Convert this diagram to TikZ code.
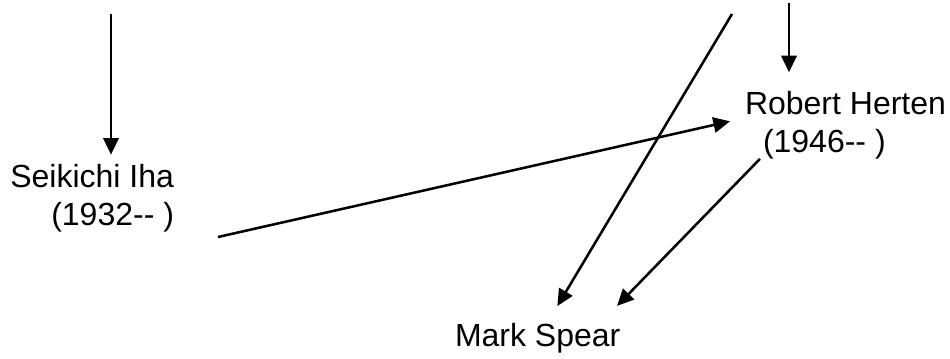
\documentclass[tikz,border=0pt]{standalone}
\usepackage{fontspec}
\setmainfont{Liberation Sans}
\usepackage{tikz}
\usetikzlibrary{arrows.meta,positioning,calc}

\begin{document}
\begin{tikzpicture}[
    x=0.75pt, y=-0.75pt,
    person/.style={inner sep=0pt, outer sep=0pt, font={\fontsize{24}{28.5}\selectfont}},
    link/.style={line width=1.9pt, -{Triangle[length=12.5pt, width=11.5pt]}}
]
\useasboundingbox (0,0) rectangle (950,358);

% Persone
\node[person, align=right, anchor=north east] (iha) at (174,164) {Seikichi Iha\\(1932-{}- )};
\node[person, align=left, anchor=north west] (herten) at (745,91) {Robert Herten\\\hspace*{13.5pt}(1946-{}- )};
\node[person, anchor=north west] (spear) at (455,323) {Mark Spear};

% Estremi liberi
\coordinate (ihain) at (111,14);
\coordinate (hertenin) at (789,3);
\coordinate (ihaout) at (218,237);
\coordinate (spearin) at (732,14);

% Collegamenti
\draw[link, shorten >=7pt] (ihain) -- (ihain |- iha.north);
\draw[link, shorten >=14pt] (hertenin) -- (hertenin |- herten.north);
\draw[link, shorten >=11.5pt] (ihaout) -- ([shift={(0,-7)}]herten.west);
\draw[link, shorten >=14.8pt] (spearin) -- ([shift={(9.5,0)}]spear.north);
\draw[link, shorten >=17.9pt] ([shift={(15,0)}]herten.south west) -- ([shift={(-20,0)}]spear.north east);

\end{tikzpicture}
\end{document}
